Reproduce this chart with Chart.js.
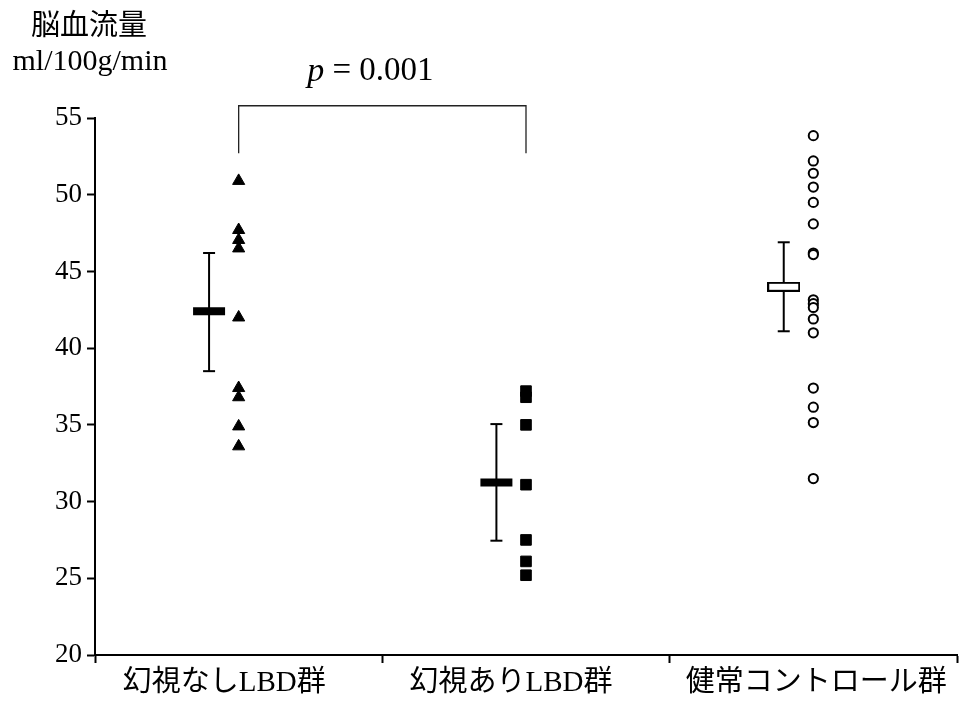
<!DOCTYPE html>
<html>
<head>
<meta charset="utf-8">
<script src="https://cdn.jsdelivr.net/npm/chart.js@4/dist/chart.umd.min.js"></script>
<style>
  html, body { margin: 0; padding: 0; background: #fff; }
  #wrap { width: 959px; height: 702px; position: relative; }
</style>
</head>
<body>
<div id="wrap"><canvas id="chart"></canvas></div>
<script>
// Categories
const groups = ['幻視なしLBD群', '幻視ありLBD群', '健常コントロール群'];

// Individual values (ml/100g/min)
const noHallucination = [50.9, 47.7, 47.05, 46.5, 42.0, 37.4, 36.8, 34.9, 33.6];
const withHallucination = [37.2, 36.8, 35.0, 31.1, 27.5, 26.1, 25.2];
const controls = [53.85, 52.2, 51.4, 50.5, 49.5, 48.1, 46.2, 46.1, 43.15, 42.9, 42.65, 41.9, 41.0, 37.4, 36.15, 35.15, 31.5];

// Mean and error bar ends per group
const means = [42.4, 31.25, 44.0];
const errHigh = [46.2, 35.05, 46.9];
const errLow = [38.5, 27.45, 41.1];

// Significance bracket between group 0 and 1
const bracketY = [52.7, 55.8];
const pLabel = '0.001';

const yTicks = [20, 25, 30, 35, 40, 45, 50, 55];

// layout tweaks (in category units)
const meanOffset = -0.103;
const labelShift = [-0.05, -0.052, 0.01];

const serif = '"Liberation Serif", "Noto Sans CJK JP", serif';

// open box marker for the control mean
const openBox = document.createElement('canvas');
openBox.width = 33;
openBox.height = 10;
(function () {
    const c = openBox.getContext('2d');
    c.fillStyle = '#fff';
    c.fillRect(0, 0, 33, 10);
    c.strokeStyle = '#000';
    c.lineWidth = 2;
    c.strokeRect(1, 1, 31, 8);
})();

function pts(vals, x) {
    return vals.map(v => ({ x: x, y: v }));
}

const datasets = [];

// error bars
groups.forEach((g, i) => {
    datasets.push({
        data: [{ x: i + meanOffset, y: errLow[i] }, { x: i + meanOffset, y: errHigh[i] }],
        showLine: true,
        borderColor: '#000',
        borderWidth: 2,
        pointStyle: 'line',
        pointRadius: 6,
        pointBorderWidth: 2,
        pointBorderColor: '#000',
        order: 3
    });
});

// mean markers
groups.forEach((g, i) => {
    datasets.push({
        data: [{ x: i + meanOffset, y: means[i] }],
        pointStyle: i === 2 ? openBox : 'line',
        pointRadius: 16,
        pointBorderWidth: 8,
        pointBorderColor: '#000',
        order: 2
    });
});

// raw values
datasets.push({
    data: pts(noHallucination, 0),
    pointStyle: 'triangle',
    pointRadius: 7,
    backgroundColor: '#000',
    borderColor: '#000',
    borderWidth: 1,
    order: 1
});
datasets.push({
    data: pts(withHallucination, 1),
    pointStyle: 'rect',
    pointRadius: 7.5,
    backgroundColor: '#000',
    borderColor: '#000',
    borderWidth: 1,
    order: 1
});
datasets.push({
    data: pts(controls, 2),
    pointStyle: 'circle',
    pointRadius: 4.6,
    backgroundColor: '#fff',
    borderColor: '#000',
    borderWidth: 2,
    order: 1
});

// bracket
datasets.push({
    data: [{ x: 0, y: bracketY[0] }, { x: 0, y: bracketY[1] }, { x: 1, y: bracketY[1] }, { x: 1, y: bracketY[0] }],
    showLine: true,
    borderColor: '#222',
    borderWidth: 1.3,
    pointRadius: 0,
    clip: false,
    order: 4
});

// labels outside the plot area
const textPlugin = {
    id: 'texts',
    afterDraw(chart) {
        const ctx = chart.ctx;
        const x = chart.scales.x;
        const y = chart.scales.y;
        ctx.save();
        ctx.fillStyle = '#000';
        ctx.textBaseline = 'middle';
        ctx.textAlign = 'center';
        ctx.font = '29px ' + serif;
        ctx.fillText('脳血流量', 89, 27);
        ctx.font = '30px ' + serif;
        ctx.fillText('ml/100g/min', 90, 62);

        // p value over the bracket
        const cx = (x.getPixelForValue(0) + x.getPixelForValue(1)) / 2 - 12;
        const py = y.getPixelForValue(bracketY[1]) - 34;
        ctx.font = 'italic 34px ' + serif;
        const pw = ctx.measureText('p').width;
        ctx.font = '33px ' + serif;
        const rest = ' = ' + pLabel;
        const rw = ctx.measureText(rest).width;
        const start = cx - (pw + rw) / 2;
        ctx.textAlign = 'left';
        ctx.font = 'italic 34px ' + serif;
        ctx.fillText('p', start, py);
        ctx.font = '33px ' + serif;
        ctx.fillText(rest, start + pw, py);
        ctx.restore();
    }
};

const xTickValues = [-0.5, 0.5, 1.5, 2.5].concat(groups.map((g, i) => i + labelShift[i]));

new Chart(document.getElementById('chart'), {
    type: 'scatter',
    data: { datasets: datasets },
    options: {
        responsive: true,
        maintainAspectRatio: false,
        animation: false,
        layout: { autoPadding: false, padding: { top: 118, right: 2, left: 0, bottom: 0 } },
        plugins: {
            legend: { display: false },
            tooltip: { enabled: false }
        },
        scales: {
            x: {
                type: 'linear',
                min: -0.5,
                max: 2.5,
                afterBuildTicks: s => {
                    s.ticks = xTickValues.slice().sort((a, b) => a - b).map(v => ({ value: v }));
                },
                afterFit: s => {
                    s.height = 47;
                    s.paddingLeft = 0;
                    s.paddingRight = 0;
                },
                border: { color: '#000', width: 2 },
                grid: {
                    drawOnChartArea: false,
                    tickLength: 8,
                    tickWidth: 2,
                    tickColor: c => (c.tick && Math.abs(c.tick.value % 1) === 0.5) ? '#000' : 'rgba(0,0,0,0)'
                },
                ticks: {
                    autoSkip: false,
                    maxRotation: 0,
                    padding: 3,
                    color: '#000',
                    font: { family: serif, size: 29 },
                    callback: v => {
                        if (Math.abs(v % 1) === 0.5) return '';
                        return groups[Math.round(v)];
                    }
                }
            },
            y: {
                min: 20,
                max: 55,
                afterFit: s => { s.width = 95; },
                afterBuildTicks: s => {
                    s.ticks = yTicks.map(v => ({ value: v }));
                },
                border: { color: '#000', width: 2 },
                grid: {
                    drawOnChartArea: false,
                    tickLength: 8,
                    tickWidth: 2,
                    tickColor: '#000'
                },
                ticks: {
                    padding: 5,
                    color: '#000',
                    font: { family: serif, size: 27 }
                }
            }
        }
    },
    plugins: [textPlugin]
});
</script>
</body>
</html>
